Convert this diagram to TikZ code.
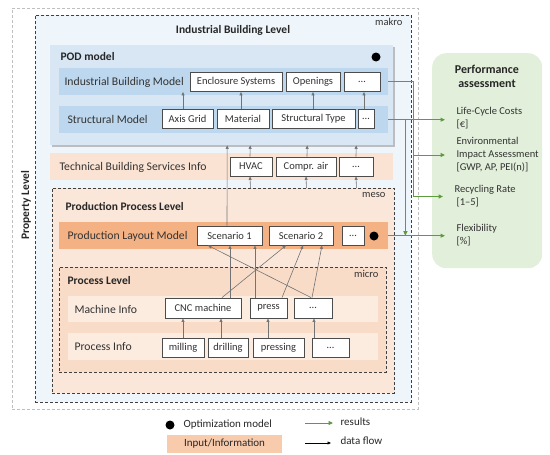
\documentclass[tikz,border=0pt]{standalone}
\usepackage{fontspec}
\setmainfont{Carlito}
\usepackage{tikz}
\usetikzlibrary{arrows.meta,positioning,calc,shadows}

\definecolor{makrofill}{HTML}{EEF5FB}
\definecolor{podfill}{HTML}{D9E7F4}
\definecolor{bluerow}{HTML}{BDD7EE}
\definecolor{mesofill}{HTML}{FBE7DA}
\definecolor{microfill}{HTML}{F9DCC8}
\definecolor{peachrow}{HTML}{FBE3D3}
\definecolor{lightrow}{HTML}{FCEBDF}
\definecolor{orangerow}{HTML}{F4B183}
\definecolor{greenbox}{HTML}{E2EFDA}
\definecolor{resultgreen}{HTML}{5E9A3E}
\definecolor{legendpeach}{HTML}{F8CBAD}

\begin{document}
\begin{tikzpicture}[x=1pt, y=-1pt,
    levelbox/.style={draw=black!75, dash pattern=on 3pt off 2pt, line width=0.9pt, anchor=north west, inner sep=0pt},
    band/.style={anchor=north west, inner sep=0pt, minimum height=27pt},
    rowlabel/.style={anchor=west, text=black!80, font=\fontsize{11.7}{14}\selectfont},
    leveltitle/.style={text=black!85, font=\fontsize{11.5}{14}\selectfont\bfseries},
    item/.style={draw=black!70, fill=white, line width=0.9pt, minimum height=19pt, inner sep=1pt, text=black!80, font=\fontsize{10.5}{12}\selectfont},
    tag/.style={anchor=east, text=black!80, font=\fontsize{10.5}{12}\selectfont},
    optdot/.style={circle, fill=black, inner sep=0pt, minimum size=9pt},
    metric/.style={anchor=west, align=left, text=black!80, font=\fontsize{10.5}{13}\selectfont},
    legendtext/.style={anchor=west, text=black!85, font=\fontsize{11}{13}\selectfont},
    flow/.style={-{Triangle[length=3.5pt, width=3pt]}, draw=black!55, line width=0.6pt},
    result/.style={-{Triangle[length=4.5pt, width=4pt]}, draw=resultgreen, line width=1pt}
]
    \useasboundingbox (0,0) rectangle (550,455);

    % levels
    \node [levelbox, draw=black!25, line width=0.6pt, minimum width=406pt, minimum height=401pt] (property) at (12,8) {};
    \node [levelbox, fill=makrofill, minimum width=376pt, minimum height=387pt] (makro) at (35,15) {};
    \node [leveltitle, rotate=90] (proplabel) at (26,205) {Property Level};
    \node [leveltitle] (makrolabel) at (233,30) {Industrial Building Level};
    \node [tag] (makrotag) at (406,22) {makro};

    % POD model
    \node [anchor=north west, fill=podfill, inner sep=0pt, minimum width=343pt, minimum height=100pt,
        drop shadow={shadow xshift=1.5pt, shadow yshift=-1.5pt, fill=black!40, opacity=0.6}] (pod) at (50,45) {};
    \node [leveltitle, anchor=west] (podlabel) at (57,57) {POD model};
    \node [optdot] (poddot) at (376,57) {};

    \node [band, fill=bluerow, minimum width=329pt] (ibband) at (59,68) {};
    \node [rowlabel] (iblabel) at (61,82) {Industrial Building Model};
    \node [item, minimum width=92pt] (encl) at (236,82) {Enclosure Systems};
    \node [item, minimum width=54pt] (open) at (313,82) {Openings};
    \node [item, minimum width=36pt] (ibdots) at (362,82) {\dots};

    \node [band, fill=bluerow, minimum width=329pt] (stband) at (59,106) {};
    \node [rowlabel] (stlabel) at (64,119.5) {Structural Model};
    \node [item, minimum width=51pt] (axis) at (187.5,119) {Axis Grid};
    \node [item, minimum width=52pt] (mat) at (243,119) {Material};
    \node [item, minimum width=83pt] (stype) at (313.5,119) {Structural Type};
    \node [item, minimum width=16pt] (stdots) at (366,119) {\dots};

    % technical building services
    \node [band, fill=peachrow, minimum width=343pt] (tbsband) at (50,153) {};
    \node [rowlabel] (tbslabel) at (56,167) {Technical Building Services Info};
    \node [item, minimum width=42pt] (hvac) at (251,166.5) {HVAC};
    \node [item, minimum width=60pt] (compr) at (306,166.5) {Compr. air};
    \node [item, minimum width=34pt] (tbsdots) at (356,166.5) {\dots};

    % meso
    \node [levelbox, fill=mesofill, minimum width=342pt, minimum height=205pt] (meso) at (52,188) {};
    \node [tag] (mesotag) at (389,195) {meso};
    \node [leveltitle, anchor=west] (mesolabel) at (62,206) {Production Process Level};
    \node [band, fill=orangerow, minimum width=329pt] (plmband) at (59,222) {};
    \node [rowlabel] (plmlabel) at (64,236) {Production Layout Model};
    \node [item, minimum width=65pt] (sc1) at (229.5,235.5) {Scenario 1};
    \node [item, minimum width=64pt] (sc2) at (301,235.5) {Scenario 2};
    \node [item, minimum width=22pt] (plmdots) at (353,235.5) {\dots};
    \node [optdot] (plmdot) at (374,236) {};

    % micro
    \node [levelbox, fill=microfill, minimum width=327pt, minimum height=105pt] (micro) at (59,267) {};
    \node [tag] (microtag) at (382,274) {micro};
    \node [leveltitle, anchor=west] (microlabel) at (64,281) {Process Level};
    \node [band, fill=lightrow, minimum width=310pt, minimum height=26pt] (mband) at (68,296) {};
    \node [rowlabel] (mlabel) at (71,309) {Machine Info};
    \node [item, minimum width=76pt, minimum height=20pt] (cnc) at (203,308) {CNC machine};
    \node [item, minimum width=37pt, minimum height=20pt] (press) at (268.5,308) {press};
    \node [item, minimum width=38pt, minimum height=20pt] (mdots) at (313,308) {\dots};
    \node [band, fill=lightrow, minimum width=310pt] (pband) at (68,333) {};
    \node [rowlabel] (plabel) at (71,347) {Process Info};
    \node [item, minimum width=42pt] (mill) at (183,347.5) {milling};
    \node [item, minimum width=40pt] (drill) at (228,347.5) {drilling};
    \node [item, minimum width=51pt] (pressing) at (278.5,347.5) {pressing};
    \node [item, minimum width=37pt] (pdots) at (330.5,347.5) {\dots};

    % performance assessment
    \node [anchor=north west, fill=greenbox, rounded corners=14pt, minimum width=110pt, minimum height=215pt] (perf) at (432,53) {};
    \node [leveltitle, align=center, font=\fontsize{12}{14}\selectfont\bfseries] (perflabel) at (487,76) {Performance\\assessment};
    \node [metric] (lcc) at (453,118) {Life-Cycle Costs\\{[}€{]}};
    \node [metric] (env) at (453,155) {Environmental\\Impact Assessment\\{[}GWP, AP, PEI(n){]}};
    \node [metric] (rec) at (451,196.5) {Recycling Rate\\\hspace*{2pt}{[}1--5{]}};
    \node [metric] (flex) at (453,235.5) {Flexibility\\{[}\%{]}};

    % legend
    \node [optdot] (legdot) at (170,425) {};
    \node [legendtext] (legopt) at (180,425) {Optimization model};
    \node [fill=legendpeach, minimum width=115pt, minimum height=18pt, inner sep=0pt, text=black!85, font=\fontsize{11}{13}\selectfont] (leginput) at (224.5,444) {Input/Information};
    \coordinate (legres) at (305,423);
    \node [legendtext] (legrestext) at (337,422) {results};
    \coordinate (legflow) at (305,443);
    \node [legendtext] (legflowtext) at (337,441) {data flow};

    % data flow
    \draw [flow] ([xshift=-4.5pt]axis.north) -- ([xshift=-53pt]encl.south);
    \draw [flow] ([xshift=-2pt]mat.north) -- ([xshift=5pt]encl.south);
    \draw [flow] ([xshift=-0.5pt]stype.north) -- (open.south);
    \draw [flow] ([xshift=-2pt]stdots.north) -- ([xshift=2pt]ibdots.south);
    \draw [flow] ([xshift=-1pt]hvac.north) -- ([xshift=28.5pt]pod.south);
    \draw [flow] ([xshift=1pt]compr.north) -- ([xshift=85.5pt]pod.south);
    \draw [flow] (tbsdots.north) -- ([xshift=134.5pt]pod.south);
    \draw [flow] ([xshift=-2.5pt]sc1.north) -- ([xshift=5.5pt]pod.south);
    \draw [flow] ([xshift=27pt]meso.north) -- ([xshift=-1pt]hvac.south);
    \draw [flow] ([xshift=83pt]meso.north) -- (compr.south);
    \draw [flow] ([xshift=133pt]meso.north) -- (tbsdots.south);
    \draw [flow] ([xshift=27pt]cnc.north) -- ([xshift=0.5pt]sc1.south);
    \draw [flow] ([xshift=19pt]cnc.north) -- ([xshift=-15pt]sc2.south);
    \draw [flow] ([xshift=-13.5pt]press.north) -- ([xshift=25.5pt]sc1.south);
    \draw [flow] ([xshift=13.5pt]press.north) -- ([xshift=2pt]sc2.south);
    \draw [flow] ([xshift=-2pt]mdots.north) -- ([xshift=-21.5pt]sc1.south);
    \draw [flow] ([xshift=-1pt]mdots.north) -- ([xshift=21pt]sc2.south);
    \draw [flow] (mill.north) -- ([xshift=-20pt]cnc.south);
    \draw [flow] ([xshift=-7pt]drill.north) -- ([xshift=18pt]cnc.south);
    \draw [flow] ([xshift=-10.5pt]pressing.north) -- ([xshift=-0.5pt]press.south);
    \draw [flow] ([xshift=-16.5pt]pdots.north) -- ([xshift=1pt]mdots.south);

    % results
    \coordinate (ibjoint) at ([xshift=25pt]ibband.east);
    \draw [result, shorten >=8pt] (ibband.east) -- (ibjoint) |- (rec.west);
    \draw [result, shorten >=8pt] (ibjoint) |- (env.west);
    \draw [result, shorten >=8pt] (stband.east) -- (stband.east -| lcc.west);
    \draw [result] ([xshift=17pt]stband.east) -- ([xshift=17pt]plmband.east);
    \draw [result, shorten >=8pt] (plmband.east) -- (plmband.east -| flex.west);

    \draw [result, shorten >=4pt] (legres) -- (legres -| legrestext.west);
    \draw [flow, draw=black, shorten >=6pt] (legflow) -- (legflow -| legflowtext.west);
\end{tikzpicture}
\end{document}
